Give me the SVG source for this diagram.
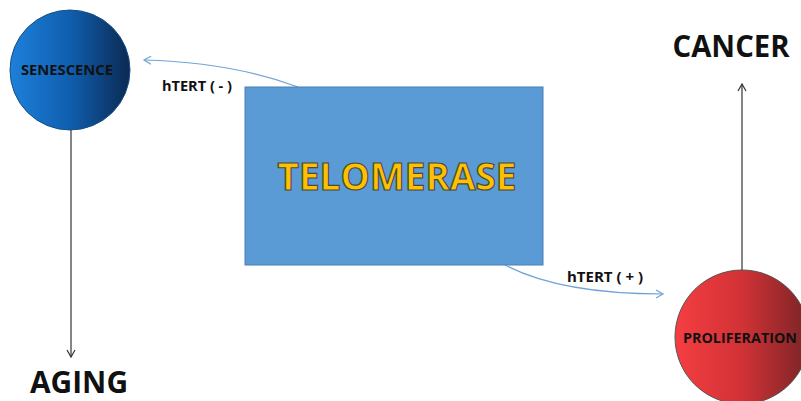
<svg xmlns="http://www.w3.org/2000/svg" width="801" height="401" viewBox="0 0 801 401">
<style>
  .lbl { font-family: "Open Sans", "Liberation Sans", sans-serif; font-weight: bold; fill: #111; }
  .conn { fill: none; stroke-width: 1.2; }
  .dark { stroke: #333; }
  .blue { stroke: #6fa3d6; }
</style>
<defs>
  <linearGradient id="gBlue" x1="0" y1="0" x2="1" y2="0">
    <stop offset="0" stop-color="#1e80da"/>
    <stop offset="0.5" stop-color="#0f5eae"/>
    <stop offset="1" stop-color="#0b2a52"/>
  </linearGradient>
  <linearGradient id="gRed" x1="0" y1="0" x2="1" y2="0">
    <stop offset="0" stop-color="#f53e42"/>
    <stop offset="0.5" stop-color="#d13236"/>
    <stop offset="1" stop-color="#7a2426"/>
  </linearGradient>
  <marker id="arrDark" markerWidth="10" markerHeight="10" refX="8" refY="5" orient="auto" markerUnits="userSpaceOnUse">
    <path d="M1,1 L8,5 L1,9" fill="none" stroke="#333" stroke-width="1.2"/>
  </marker>
  <marker id="arrBlue" markerWidth="10" markerHeight="10" refX="8" refY="5" orient="auto" markerUnits="userSpaceOnUse">
    <path d="M1,1 L8,5 L1,9" fill="none" stroke="#6fa3d6" stroke-width="1.2"/>
  </marker>
</defs>
<rect width="801" height="401" fill="#ffffff"/>

<g id="connectors">
  <line class="conn dark" x1="71" y1="130" x2="71" y2="357" marker-end="url(#arrDark)"/>
  <line class="conn dark" x1="742" y1="270" x2="742" y2="84" marker-end="url(#arrDark)"/>
  <path class="conn blue" d="M298,87 Q230,62 144,60" marker-end="url(#arrBlue)"/>
  <path class="conn blue" d="M505,265 Q560,294 663,294" marker-end="url(#arrBlue)"/>
  <text class="lbl" x="162" y="91" font-size="15" textLength="70" lengthAdjust="spacingAndGlyphs">hTERT ( - )</text>
  <text class="lbl" x="567" y="282" font-size="15" textLength="76" lengthAdjust="spacingAndGlyphs">hTERT ( + )</text>
</g>

<g id="senescence">
  <circle cx="70" cy="70" r="60" fill="url(#gBlue)" stroke="#1a4f86" stroke-width="1"/>
  <text class="lbl" x="67" y="75" font-size="15" text-anchor="middle" textLength="92" lengthAdjust="spacingAndGlyphs">SENESCENCE</text>
</g>

<g id="telomerase">
  <rect x="245" y="87" width="298" height="178" fill="#5b9bd5" stroke="#4a7fb3" stroke-width="1"/>
  <text x="397" y="190" font-family="Open Sans, Liberation Sans, sans-serif" font-weight="bold" font-size="37" fill="#ffc000" stroke="#4a4a3a" stroke-width="1.2" text-anchor="middle" textLength="239" lengthAdjust="spacingAndGlyphs">TELOMERASE</text>
</g>

<g id="proliferation">
  <circle cx="742" cy="337" r="67" fill="url(#gRed)" stroke="#555" stroke-width="1"/>
  <text class="lbl" x="740" y="343" font-size="15" text-anchor="middle" textLength="114" lengthAdjust="spacingAndGlyphs">PROLIFERATION</text>
</g>

<g id="cancer">
  <text class="lbl" x="731" y="57" font-size="30" fill="#000" text-anchor="middle" textLength="117" lengthAdjust="spacingAndGlyphs">CANCER</text>
</g>

<g id="aging">
  <text class="lbl" x="79" y="393" font-size="30" fill="#000" text-anchor="middle" textLength="98" lengthAdjust="spacingAndGlyphs">AGING</text>
</g>
</svg>
